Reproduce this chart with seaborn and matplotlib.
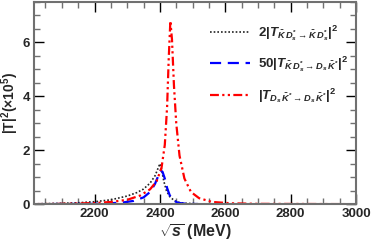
import matplotlib
matplotlib.use('Agg')
import matplotlib.pyplot as plt
import seaborn as sns
import pandas as pd

# values (sqrt(s) in MeV, |T|^2 in units of 1e5)
x_kds = [2015, 2100, 2150, 2200, 2250, 2300, 2330, 2350, 2370, 2385, 2395, 2400, 2405, 2412, 2420, 2430, 2445, 2460, 2480, 2520, 2600, 2800, 3000]
y_kds = [0.01, 0.03, 0.05, 0.09, 0.16, 0.30, 0.43, 0.56, 0.78, 1.05, 1.35, 1.50, 1.30, 0.85, 0.50, 0.28, 0.12, 0.06, 0.03, 0.01, 0.0, 0.0, 0.0]

x_mix = [2015, 2200, 2280, 2320, 2350, 2370, 2385, 2395, 2402, 2408, 2415, 2422, 2430, 2440, 2455, 2475, 2520, 2600, 3000]
y_mix = [0.0, 0.01, 0.05, 0.12, 0.25, 0.45, 0.75, 1.05, 1.25, 1.20, 0.95, 0.60, 0.33, 0.15, 0.05, 0.02, 0.0, 0.0, 0.0]

x_dsk = [2015, 2100, 2200, 2250, 2300, 2340, 2370, 2390, 2405, 2415, 2422, 2427, 2432, 2437, 2443, 2450, 2460, 2475, 2495, 2520, 2560, 2620, 2700, 3000]
y_dsk = [0.0, 0.01, 0.04, 0.08, 0.16, 0.32, 0.55, 0.85, 1.35, 2.20, 3.60, 5.40, 6.80, 6.10, 4.40, 3.00, 1.80, 0.95, 0.45, 0.22, 0.08, 0.03, 0.01, 0.0]

labels = [r'$2|T_{\bar{K}\,D_s^{*}\to\bar{K}\,D_s^{*}}|^2$',
          r'$50|T_{\bar{K}\,D_s^{*}\to D_s\,\bar{K}^{*}}|^2$',
          r'$|T_{D_s\,\bar{K}^{*}\to D_s\,\bar{K}^{*}}|^2$']

sns.set_style('ticks')
plt.rcParams['font.family'] = ['Liberation Sans', 'DejaVu Sans']
plt.rcParams['font.weight'] = 'bold'
plt.rcParams['mathtext.fontset'] = 'custom'
plt.rcParams['mathtext.rm'] = 'Liberation Sans:bold'
plt.rcParams['mathtext.bf'] = 'Liberation Sans:bold'
plt.rcParams['mathtext.it'] = 'Liberation Sans:italic:bold'

fig = plt.figure(figsize=(3.74, 2.52), dpi=100)
ax = fig.add_axes([0.091, 0.19, 0.861, 0.802])

sns.lineplot(x=x_kds, y=y_kds, ax=ax, color='#222222', lw=1.2, linestyle=(0, (1, 1.2)), label=labels[0])
sns.lineplot(x=x_mix, y=y_mix, ax=ax, color='#0000ff', lw=1.6, linestyle=(0, (5, 3)), label=labels[1])
sns.lineplot(x=x_dsk, y=y_dsk, ax=ax, color='#ff0000', lw=1.6, linestyle=(0, (4, 1.5, 1, 1.5, 1, 1.5)), label=labels[2])

ax.set_xlim(2015, 3000)
ax.set_ylim(0, 7.5)
ax.set_xticks([2200, 2400, 2600, 2800, 3000])
ax.set_xticks(range(2050, 3001, 50), minor=True)
ax.set_yticks([0, 2, 4, 6])
ax.set_yticks([i * 0.5 for i in range(16)], minor=True)

for s in ax.spines.values():
    s.set_color('#707070')
    s.set_linewidth(1.5)
ax.tick_params(which='both', direction='in', top=True, right=True, labelsize=9.5, pad=3)
ax.tick_params(which='major', length=7, width=1, color='black')
ax.tick_params(which='minor', length=4, width=1, color='#707070')
for t in ax.get_xticklabels() + ax.get_yticklabels():
    t.set_fontweight('bold')

ax.set_xlabel(r'$\sqrt{s}$ (MeV)', fontsize=11.5, fontweight='bold', labelpad=1)
ax.set_ylabel(r'|T|$^{2}$(×10$^{5}$)', fontsize=10, fontweight='bold')
ax.yaxis.set_label_coords(-0.042, 0.5)

ax.legend(loc='upper right', bbox_to_anchor=(1.0, 0.935), frameon=False, fontsize=9.5,
          handlelength=3.0, labelspacing=0.9, handletextpad=0.6, borderaxespad=0.2)

fig.savefig('out.png', dpi=100)
